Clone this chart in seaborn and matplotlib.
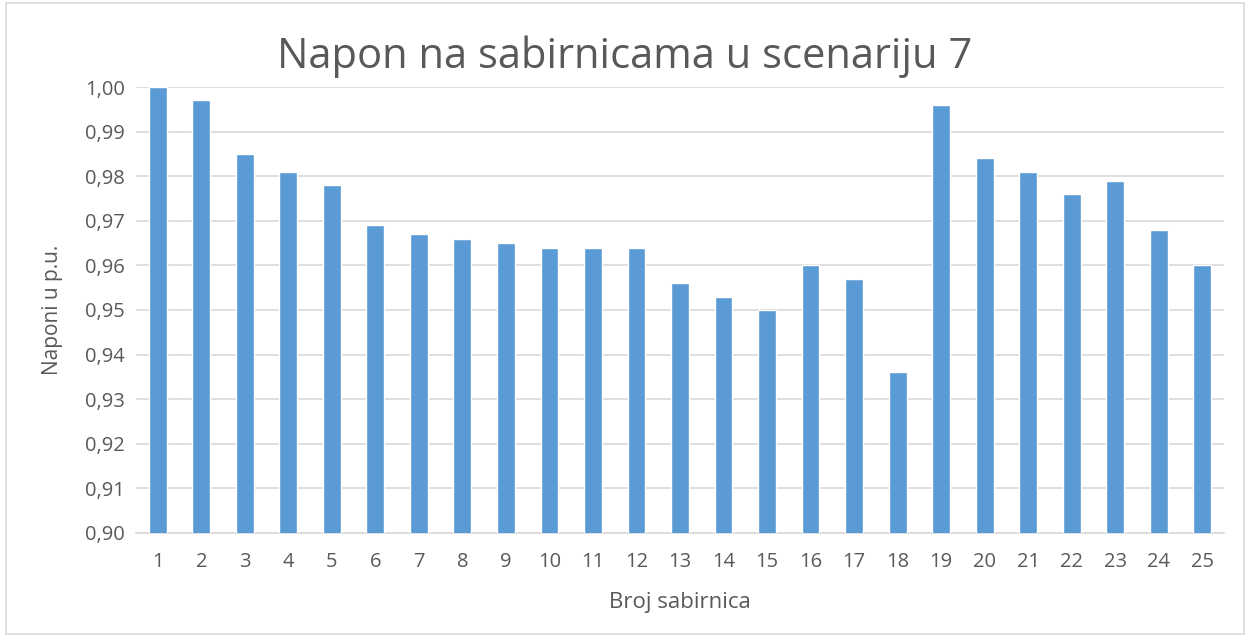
import pandas as pd
import matplotlib.pyplot as plt
import seaborn as sns
from matplotlib.ticker import FuncFormatter, MultipleLocator
from matplotlib.patches import Rectangle

# podaci
sabirnice = list(range(1, 26))
naponi = [1.000, 0.997, 0.985, 0.981, 0.978, 0.969, 0.967, 0.966, 0.965, 0.964,
          0.964, 0.964, 0.956, 0.953, 0.950, 0.960, 0.957, 0.936, 0.996, 0.984,
          0.981, 0.976, 0.979, 0.968, 0.960]

df = pd.DataFrame({'sabirnica': [str(s) for s in sabirnice], 'napon': naponi})

sns.set_style('white')
plt.rcParams['font.family'] = ['Open Sans', 'DejaVu Sans']

grey = '#595959'
fig = plt.figure(figsize=(12.5, 6.37), dpi=100)
ax = fig.add_axes([0.1088, 0.1633, 0.8704, 0.7001])

sns.barplot(data=df, x='sabirnica', y='napon', color='#5B9BD5', width=0.41,
            saturation=1, ax=ax, zorder=3)

ax.set_ylim(0.90, 1.00)
ax.set_xlim(-0.5, 24.5)
ax.yaxis.set_major_locator(MultipleLocator(0.01))
ax.yaxis.set_major_formatter(FuncFormatter(lambda v, p: f'{v:.2f}'.replace('.', ',')))
ax.grid(axis='y', color='#D9D9D9', linewidth=1.2, zorder=0)
for s in ['top', 'right', 'left']:
    ax.spines[s].set_visible(False)
ax.spines['bottom'].set_color('#D9D9D9')
ax.spines['bottom'].set_linewidth(1.2)
ax.tick_params(axis='both', length=0, labelsize=14.5, colors=grey)
ax.tick_params(axis='x', pad=14)
ax.tick_params(axis='y', pad=8)

ax.set_xlabel('Broj sabirnica', fontsize=16, color=grey, labelpad=14)
ax.set_ylabel('Naponi u p.u.', fontsize=15, color=grey, labelpad=16)
fig.suptitle('Napon na sabirnicama u scenariju 7', fontsize=30, color=grey, y=0.945)

fig.patches.append(Rectangle((0.005, 0.005), 0.99, 0.99, transform=fig.transFigure,
                             fill=False, edgecolor='#D9D9D9', linewidth=1.2))

fig.savefig('out.png', dpi=100, facecolor='white')
